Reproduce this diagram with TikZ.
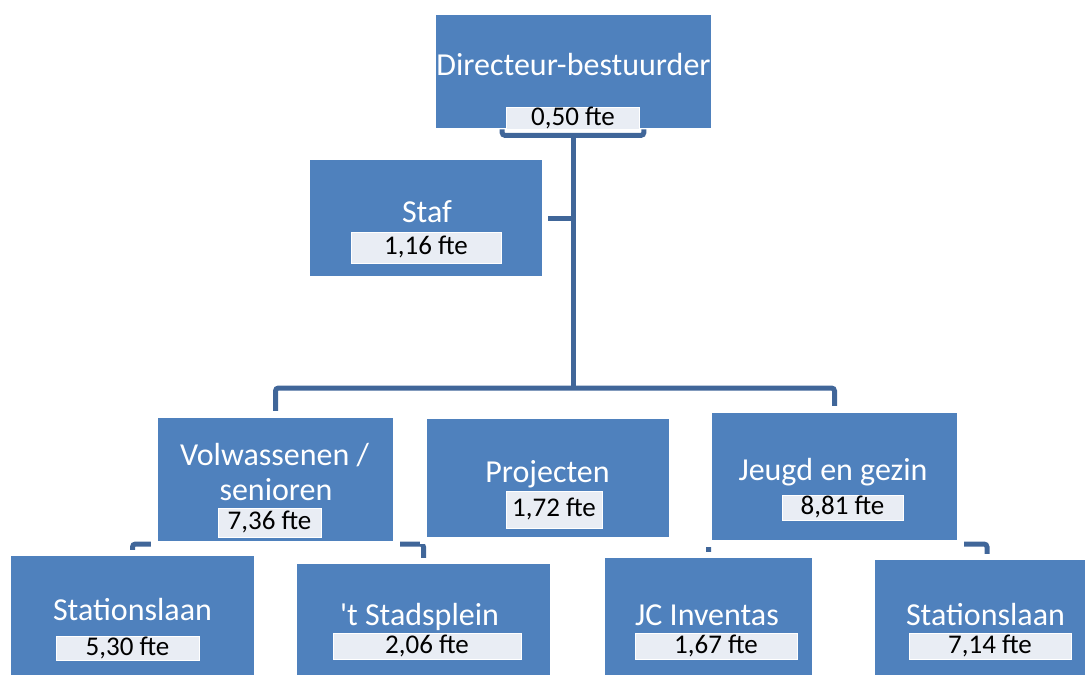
\documentclass[tikz,border=0pt]{standalone}
\usepackage{fontspec}
\setmainfont{Carlito}
\usetikzlibrary{backgrounds}
\definecolor{boxblue}{RGB}{79,129,189}
\definecolor{lineblue}{RGB}{64,102,153}
\definecolor{ftegrey}{RGB}{233,237,244}
\begin{document}
\begin{tikzpicture}[x=1pt,y=-1pt,
    box/.style={rectangle,fill=boxblue,inner sep=0pt},
    midbox/.style={box,preaction={draw=white,line width=14pt}},
    title/.style={text=white,inner sep=0pt,anchor=base,font=\fontsize{32}{35}\selectfont},
    fte/.style={rectangle,fill=ftegrey,draw=white,line width=0.8pt,inner sep=0pt,
      text height=18pt,text depth=4pt,font=\fontsize{27}{29}\selectfont},
    conn/.style={draw=lineblue,line width=5pt,rounded corners=3pt}]
  \useasboundingbox (0,0) rectangle (1085,675);
  % boxes
  \node[box,minimum width=275pt,minimum height=113pt] (dir) at (573.5,71.5) {};
  \node[box,minimum width=232pt,minimum height=116pt] (staf) at (426,218) {};
  \node[midbox,minimum width=235pt,minimum height=123pt] (vol) at (275.5,479.5) {};
  \node[midbox,minimum width=242pt,minimum height=118pt] (proj) at (548,478) {};
  \node[midbox,minimum width=245pt,minimum height=127pt] (jeu) at (834.5,476.5) {};
  \node[box,minimum width=243pt,minimum height=140pt] (st1) at (132.5,626) {};
  \node[box,minimum width=253pt,minimum height=140pt] (sta) at (423.5,634) {};
  \node[box,minimum width=207pt,minimum height=140pt] (jci) at (708.5,628) {};
  \node[box,minimum width=224pt,minimum height=140pt] (st2) at (987,630) {};
  % titles
  \node[title] (dirT) at (573.5,75) {Directeur-bestuurder};
  \node[title] (stafT) at (427,222) {Staf};
  \node[title] (volT1) at (274.5,465) {Volwassenen /};
  \node[title] (volT2) at (276,500) {senioren};
  \node[title] (projT) at (547.5,482) {Projecten};
  \node[title] (jeuT) at (833,480) {Jeugd en gezin};
  \node[title] (st1T) at (132.5,620) {Stationslaan};
  \node[title] (staT) at (419.5,625) {\textquotesingle t Stadsplein};
  \node[title] (jciT) at (707,625) {JC Inventas};
  \node[title] (st2T) at (985.5,625) {Stationslaan};
  % fte labels
  \node[fte,minimum width=133pt,minimum height=22pt] (dirL) at (573,118) {0,50 fte};
  \node[fte,minimum width=150pt,minimum height=31pt] (stafL) at (426,247.5) {1,16 fte};
  \node[fte,minimum width=103pt,minimum height=29pt] (volL) at (269.5,522.5) {7,36 fte};
  \node[fte,minimum width=96pt,minimum height=37pt] (projL) at (554,509.5) {1,72 fte};
  \node[fte,minimum width=121pt,minimum height=25pt] (jeuL) at (842.5,507.5) {8,81 fte};
  \node[fte,minimum width=143pt,minimum height=24pt] (st1L) at (127.5,648) {5,30 fte};
  \node[fte,minimum width=188pt,minimum height=26pt] (staL) at (427,646) {2,06 fte};
  \node[fte,minimum width=162pt,minimum height=26pt] (jciL) at (716,646) {1,67 fte};
  \node[fte,minimum width=162pt,minimum height=26pt] (st2L) at (990,646) {7,14 fte};
  % connectors
  \coordinate (hub) at (573,388);
  \coordinate (volB) at (275,544);
  \coordinate (jeuB) at (834,544);
  \begin{scope}[on background layer]
    \draw[conn] ([xshift=-4pt]dirL.south west) -- ++(0,6) -| ([xshift=4pt]dirL.south east);
    \draw[conn] ([yshift=-6pt]dirL.south) -- (hub);
    \draw[conn] ([xshift=6pt]staf.east) -- (staf.east -| hub);
    \draw[conn] ([yshift=6pt]vol.north) |- (hub) -| ([yshift=6pt]jeu.north);
    \draw[conn] ([yshift=6pt]st1.north) |- (volB) -| ([yshift=6pt]sta.north);
    \draw[conn] ([yshift=6pt]jci.north) |- (jeuB) -| ([yshift=6pt]st2.north);
  \end{scope}
\end{tikzpicture}
\end{document}
